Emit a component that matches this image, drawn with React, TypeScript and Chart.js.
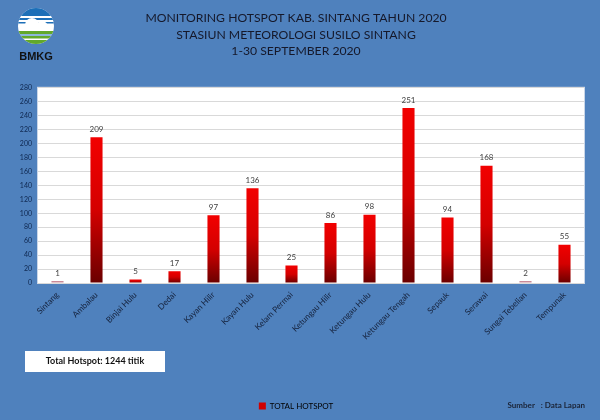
import React, { useEffect, useRef } from "react";
import { Chart, registerables } from "chart.js";

Chart.register(...registerables);

const categories = [
  "Sintang", "Ambalau", "Binjai Hulu", "Dedai", "Kayan Hilir", "Kayan Hulu",
  "Kelam Permai", "Ketungau Hilir", "Ketungau Hulu", "Ketungau Tengah",
  "Sepauk", "Serawai", "Sungai Tebelian", "Tempunak",
];
const hotspots = [1, 209, 5, 17, 97, 136, 25, 86, 98, 251, 94, 168, 2, 55];
const seriesName = "TOTAL HOTSPOT";
const titleLines = [
  "MONITORING HOTSPOT KAB. SINTANG TAHUN 2020",
  "STASIUN METEOROLOGI SUSILO SINTANG",
  "1-30 SEPTEMBER 2020",
];
const yMax = 280;
const yStep = 20;
const sourceText = "Sumber   : Data Lapan";

const FONT = "Lato, 'Noto Sans', sans-serif";
const BG = "#4f81bd";

const bgPlugin = {
  id: "bgPlugin",
  beforeDraw(chart: any) {
    const { ctx, chartArea: a, width, height } = chart;
    ctx.save();
    ctx.fillStyle = BG;
    ctx.fillRect(0, 0, width, height);
    ctx.fillStyle = "#ffffff";
    ctx.fillRect(a.left, a.top, a.right - a.left, a.bottom - a.top);
    ctx.strokeStyle = "#c9d6e8";
    ctx.lineWidth = 1;
    ctx.strokeRect(a.left - 0.5, a.top - 0.5, a.right - a.left + 1, a.bottom - a.top + 1);
    ctx.restore();
  },
};

const valueLabels = {
  id: "valueLabels",
  afterDatasetsDraw(chart: any) {
    const { ctx } = chart;
    const meta = chart.getDatasetMeta(0);
    ctx.save();
    ctx.font = `8px ${FONT}`;
    ctx.fillStyle = "#404040";
    ctx.textAlign = "center";
    ctx.textBaseline = "bottom";
    meta.data.forEach((el: any, i: number) => {
      ctx.fillText(String(chart.data.datasets[0].data[i]), el.x, el.y - 4);
    });
    ctx.restore();
  },
};

const decor = {
  id: "decor",
  afterDraw(chart: any) {
    const { ctx, width } = chart;
    ctx.save();
    // BMKG logo
    const cx = 36, cy = 26, r = 18;
    ctx.save();
    ctx.beginPath();
    ctx.arc(cx, cy, r, 0, Math.PI * 2);
    ctx.clip();
    ctx.fillStyle = "#ffffff";
    ctx.fillRect(cx - r, cy - r, 2 * r, 2 * r);
    ctx.fillStyle = "#1c6fb8";
    ctx.fillRect(cx - r, cy - r, 2 * r, 8);
    ctx.fillRect(cx - r, cy - r + 10, 2 * r, 2);
    ctx.fillRect(cx - r, cy - r + 14, 2 * r, 1.5);
    ctx.fillStyle = "#ffffff";
    ctx.beginPath();
    ctx.arc(cx - 4, cy - 1, 7, 0, Math.PI * 2);
    ctx.arc(cx + 6, cy + 1, 6, 0, Math.PI * 2);
    ctx.fill();
    ctx.fillStyle = "#62a82a";
    ctx.fillRect(cx - r, cy + 5, 2 * r, 3);
    ctx.fillRect(cx - r, cy + 10, 2 * r, 2.5);
    ctx.fillRect(cx - r, cy + 14, 2 * r, 4);
    ctx.fillStyle = "#1c6fb8";
    ctx.fillRect(cx - r, cy + 8.5, 2 * r, 1);
    ctx.restore();
    ctx.fillStyle = "#111111";
    ctx.font = `bold 11px 'Liberation Sans', Arial, sans-serif`;
    ctx.textAlign = "center";
    ctx.textBaseline = "middle";
    ctx.fillText("BMKG", cx, 57);

    // Total box
    const total = hotspots.reduce((s, v) => s + v, 0);
    ctx.fillStyle = "#ffffff";
    ctx.fillRect(25, 351, 140, 21);
    ctx.fillStyle = "#111111";
    ctx.font = `bold 9px ${FONT}`;
    ctx.textAlign = "center";
    ctx.fillText(`Total Hotspot: ${total} titik`, 95, 361.5);

    // Source
    ctx.font = `bold 8px ${FONT}`;
    ctx.fillStyle = "#1a2336";
    ctx.textAlign = "right";
    ctx.fillText(sourceText, width - 15, 405);
    ctx.restore();
  },
};

export default function App() {
  const ref = useRef<HTMLCanvasElement | null>(null);
  useEffect(() => {
    document.body.style.margin = "0";
    const canvas = ref.current!;
    const chart = new Chart(canvas, {
      type: "bar",
      data: {
        labels: categories,
        datasets: [
          {
            label: seriesName,
            data: hotspots,
            barPercentage: 0.62,
            categoryPercentage: 0.5,
            minBarLength: 2,
            backgroundColor: (c: any) => {
              const ch = c.chart;
              if (c.type !== "data" || !ch.chartArea || !ch.scales.y) return "#d00000";
              const yTop = ch.scales.y.getPixelForValue(c.raw);
              const yBot = ch.scales.y.getPixelForValue(0);
              if (yBot - yTop < 2) return "#c98a98";
              const g = ch.ctx.createLinearGradient(0, yTop, 0, yBot);
              g.addColorStop(0, "#f20000");
              g.addColorStop(0.5, "#d40000");
              g.addColorStop(1, "#6a0000");
              return g;
            },
          } as any,
        ],
      },
      options: {
        responsive: false,
        animation: false,
        layout: { padding: { left: 8, right: 16, top: 0, bottom: 0 } },
        plugins: {
          title: {
            display: true,
            text: titleLines,
            color: "#15182a",
            font: { family: FONT, size: 12.2, weight: "normal" as any, lineHeight: 1.36 },
            padding: { top: 10, bottom: 28 },
          },
          legend: {
            display: true,
            position: "bottom",
            labels: {
              color: "#15223c",
              font: { family: FONT, size: 8 },
              boxWidth: 7,
              boxHeight: 7,
              padding: 6,
              generateLabels: () => [
                {
                  text: seriesName,
                  fillStyle: "#d00000",
                  strokeStyle: "#d00000",
                  lineWidth: 0,
                  datasetIndex: 0,
                } as any,
              ],
            },
          },
          tooltip: { enabled: false },
        },
        scales: {
          x: {
            grid: { display: false, drawTicks: false },
            border: { display: false },
            ticks: {
              color: "#15223c",
              font: { family: FONT, size: 8.3 },
              maxRotation: 45,
              minRotation: 45,
              autoSkip: false,
              padding: 7,
            },
            afterFit: (s: any) => {
              s.height = 113;
            },
          },
          y: {
            min: 0,
            max: yMax,
            grid: { color: "#d9d9d9", drawTicks: false },
            border: { display: false },
            ticks: {
              stepSize: yStep,
              color: "#0f2850",
              font: { family: FONT, size: 7 },
              padding: 6,
            },
            afterFit: (s: any) => {
              s.width = 30;
            },
          },
        },
      },
      plugins: [bgPlugin, valueLabels, decor],
    });
    return () => chart.destroy();
  }, []);
  return <canvas ref={ref} width={600} height={420} style={{ display: "block" }} />;
}
